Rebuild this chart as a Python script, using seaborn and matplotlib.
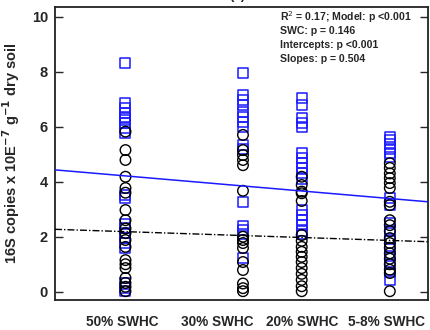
import numpy as np
import pandas as pd
import seaborn as sns
import matplotlib
matplotlib.use("Agg")
import matplotlib.pyplot as plt

# ---- data ----
swhc_levels = [50, 30, 20, 5]
tick_labels = ["50% SWHC", "30% SWHC", "20% SWHC", "5-8% SWHC"]
label_pos = [50.5, 34.4, 20, 5.6]

blue_50 = [8.3, 6.85, 6.67, 6.49, 6.36, 6.24, 6.12, 5.95, 5.77, 3.5, 3.4, 2.45, 2.3, 2.13, 1.95, 1.77, 1.6, 0.3, 0.15, 0.02]
blue_30 = [7.96, 7.15, 6.97, 6.79, 6.55, 6.36, 6.18, 6.0, 5.33, 5.2, 3.27, 2.4, 2.25, 2.1, 1.22]
blue_20 = [7.04, 6.79, 6.3, 6.15, 5.98, 5.04, 4.86, 4.67, 4.5, 4.3, 4.1, 2.97, 2.79, 2.6, 2.42, 2.22, 2.1]
blue_5 = [5.64, 5.5, 5.36, 5.2, 5.05, 4.9, 3.4, 3.15, 2.5, 2.2, 1.9, 1.6, 1.3, 1.0, 0.7, 0.43]

black_50 = [5.82, 5.15, 4.79, 4.18, 3.77, 3.6, 2.97, 2.6, 2.3, 2.13, 1.88, 1.63, 1.15, 1.0, 0.86, 0.5, 0.32, 0.18, 0.02]
black_30 = [5.7, 5.15, 4.97, 4.79, 4.6, 3.67, 2.0, 1.88, 1.77, 1.59, 1.08, 0.79, 0.3, 0.13, 0.02]
black_20 = [4.18, 3.88, 3.64, 3.58, 3.3, 2.06, 1.85, 1.63, 1.45, 1.27, 1.08, 0.86, 0.65, 0.43, 0.2, 0.02]
black_5 = [4.67, 4.5, 4.3, 4.13, 3.95, 3.77, 3.27, 3.15, 2.6, 2.42, 2.2, 1.95, 1.77, 1.6, 1.4, 1.2, 1.0, 0.8, 0.68, 0.02]

# fitted lines: intercept at SWHC=0 and slope per % SWHC
blue_fit = (3.297, 0.01827)
black_fit = (1.83, 0.00709)

stats_text = ["R$^2$ = 0.17; Model: p <0.001", "SWC: p = 0.146",
              "Intercepts: p <0.001", "Slopes: p = 0.504"]

def make_df(groups):
    rows = []
    for lvl, vals in zip(swhc_levels, groups):
        rows += [(lvl, v) for v in vals]
    return pd.DataFrame(rows, columns=["swhc", "copies"])

df_blue = make_df([blue_50, blue_30, blue_20, blue_5])
df_black = make_df([black_50, black_30, black_20, black_5])

# ---- plot ----
sns.set_style("ticks")
plt.rcParams['font.family'] = ['Liberation Sans', 'DejaVu Sans']
fig = plt.figure(figsize=(4.31, 3.30), dpi=100)
ax = fig.add_axes([55 / 431, 30 / 330, 373 / 431, 293 / 330])

BLUE = "#1a1aff"
sns.scatterplot(data=df_blue, x="swhc", y="copies", ax=ax, marker="s", s=52,
                fc="none", ec=BLUE, linewidth=1.1, zorder=3)
sns.scatterplot(data=df_black, x="swhc", y="copies", ax=ax, marker="o", s=58,
                fc="none", ec="black", linewidth=1.0, zorder=4)

xlim = (62, -1.5)
xs = np.array(xlim)
ax.plot(xs, blue_fit[0] + blue_fit[1] * xs, color=BLUE, lw=1.1, zorder=5)
ax.plot(xs, black_fit[0] + black_fit[1] * xs, color="black", lw=1.0,
        dashes=(5, 1.5, 1, 1.5), zorder=5)

ax.set_xlim(*xlim)
ax.set_ylim(-0.3, 10.35)
ax.set_yticks([0, 2, 4, 6, 8, 10])
ax.set_xticks([])
ax.tick_params(axis="y", direction="in", length=6, width=1, right=True, left=True,
               labelsize=10.5, pad=5)
for lab in ax.get_yticklabels():
    lab.set_fontweight("bold")
for sp in ax.spines.values():
    sp.set_visible(True)
    sp.set_linewidth(1.3)
    sp.set_color("#222222")

ax.set_xlabel("")
ax.set_ylabel("16S copies x 10E$^{\\mathbf{-7}}$ g$^{\\mathbf{-1}}$ dry soil",
              fontsize=10.5, fontweight="bold", labelpad=7)

for pos, lab in zip(label_pos, tick_labels):
    ax.text(pos, -0.075, lab, transform=ax.get_xaxis_transform(), ha="center",
            va="center", fontsize=9.8, fontweight="bold")

for i, t in enumerate(stats_text):
    ax.text(0.603, 0.965 - i * 0.048, t, transform=ax.transAxes, ha="left",
            va="center", fontsize=7.6, fontweight="bold")

fig.text(237 / 431, 1.012, "(a)", ha="center", va="center", fontsize=9.5,
         fontweight="bold")

fig.savefig("out.png", dpi=100)
